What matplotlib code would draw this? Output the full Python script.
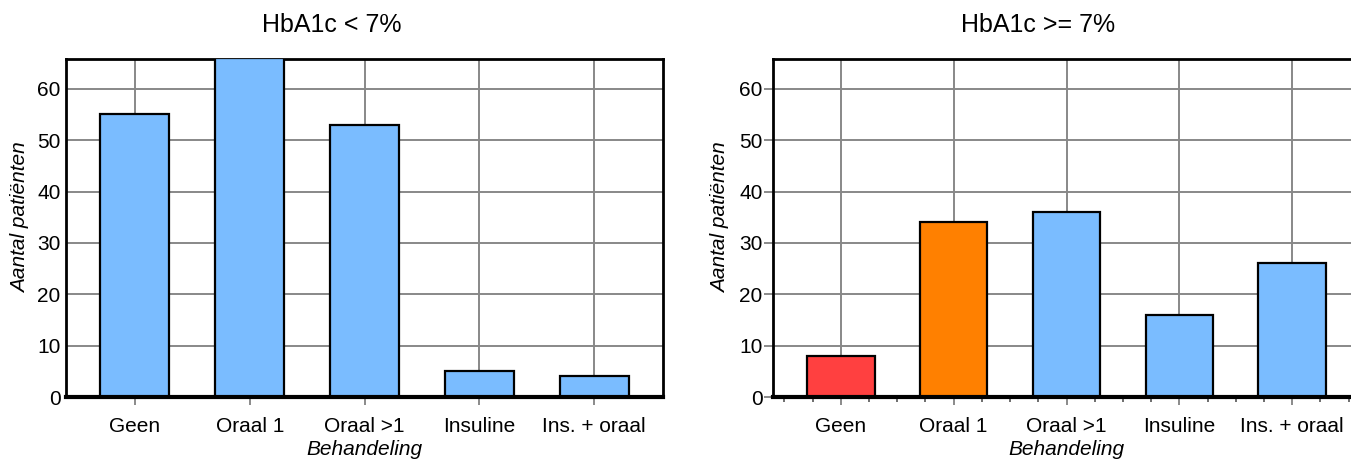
import matplotlib
matplotlib.use("Agg")
import matplotlib.pyplot as plt
from matplotlib.ticker import FixedLocator

plt.rcParams['font.family'] = ['Liberation Sans', 'DejaVu Sans']

categories = ["Geen", "Oraal 1", "Oraal >1", "Insuline", "Ins. + oraal"]
values_low = [55, 66, 53, 5, 4]
values_high = [8, 34, 36, 16, 26]
colors_low = ["#7abcff"] * 5
colors_high = ["#ff4040", "#ff8000", "#7abcff", "#7abcff", "#7abcff"]
title_low = "HbA1c < 7%"
title_high = "HbA1c >= 7%"
yticks = [0, 10, 20, 30, 40, 50, 60]

W, H = 1351, 461
fig = plt.figure(figsize=(W / 100, H / 100), dpi=100)

def px(x0, y0, x1, y1):
    return [x0 / W, 1 - y1 / H, (x1 - x0) / W, (y1 - y0) / H]

ax1 = fig.add_axes(px(66, 59, 663, 397))
ax2 = fig.add_axes(px(773, 59, 1360, 397))

FS = 15
for ax, vals, cols, right in [(ax1, values_low, colors_low, False),
                              (ax2, values_high, colors_high, True)]:
    x = list(range(len(categories)))
    ax.bar(x, vals, width=0.6, color=cols, edgecolor="black", linewidth=1.6, zorder=3)
    ax.set_xlim(-0.6, 4.6)
    ax.set_ylim(0, 65.8)
    ax.set_xticks(x)
    ax.set_xticklabels(categories, fontsize=FS)
    ax.set_yticks(yticks)
    if right:
        ax.tick_params(axis='y', labelsize=FS, length=6.5, width=1.2, color='#777777',
                       direction='out', pad=1)
    else:
        ax.tick_params(axis='y', labelsize=FS, length=0, pad=4)
    ax.tick_params(axis='x', which='major', length=6, width=1.2, color='#777777',
                   direction='out', pad=8.5)
    if right:
        mt = [i + d for i in range(-1, 5) for d in (0.25, 0.5, 0.75) if -0.6 < i + d < 4.6]
        ax.xaxis.set_minor_locator(FixedLocator(mt))
        ax.tick_params(axis='x', which='minor', length=3.5, width=1.2, color='#555555',
                       direction='out')
    ax.grid(True, color="#888888", linewidth=1.4, zorder=0)
    ax.set_axisbelow(True)
    for s in ax.spines.values():
        s.set_linewidth(2)
        s.set_color("black")
    ax.spines['bottom'].set_linewidth(3)
    ax.spines['bottom'].set_zorder(4)
    ax.set_xlabel("Behandeling", fontsize=FS, style='italic', labelpad=2.5)
    ax.set_ylabel("Aantal patiënten", fontsize=FS, style='italic')
    off = -44 if right else -36
    ax.yaxis.set_label_coords(off / 597, 0.53)

fig.text(332 / W, 1 - 25.5 / H, title_low, ha='center', va='center', fontsize=18)
fig.text(1038 / W, 1 - 25.5 / H, title_high, ha='center', va='center', fontsize=18)

fig.savefig("out.png", dpi=100)
